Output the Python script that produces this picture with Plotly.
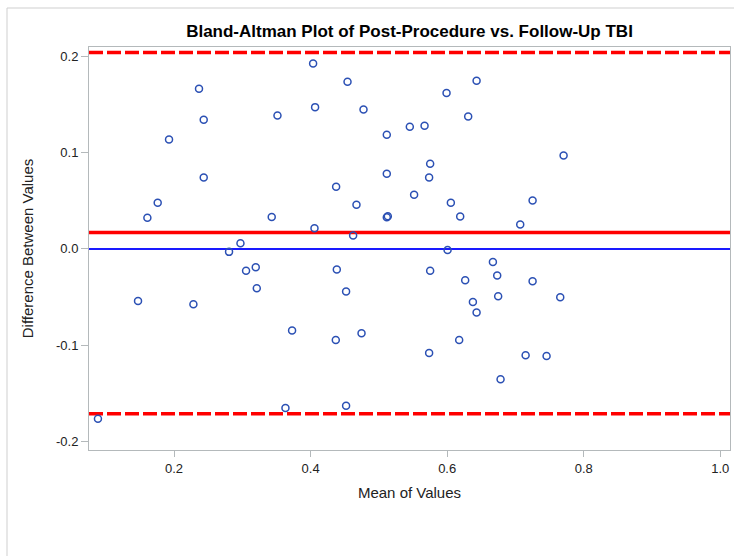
import plotly.graph_objects as go

# ---- data ----
mean_values = [0.0886, 0.1473, 0.1610, 0.1761, 0.1927, 0.2284, 0.2366, 0.2435, 0.2435,
               0.2806, 0.2973, 0.3055, 0.3197, 0.3212, 0.3431, 0.3515, 0.3632, 0.3729,
               0.4037, 0.4066, 0.4057, 0.4374, 0.4384, 0.4369, 0.4541, 0.4520, 0.4520,
               0.4623, 0.4672, 0.4775, 0.4746, 0.5116, 0.5116, 0.5116, 0.5131, 0.5453,
               0.5516, 0.5669, 0.5751, 0.5736, 0.5751, 0.5736, 0.5991, 0.6006, 0.6054,
               0.6191, 0.6176, 0.6264, 0.6308, 0.6431, 0.6377, 0.6431, 0.6670, 0.6733,
               0.6747, 0.6782, 0.7070, 0.7149, 0.7251, 0.7251, 0.7456, 0.7656, 0.7705]
diff_values = [-0.1762, -0.0540, 0.0322, 0.0478, 0.1135, -0.0574, 0.1661, 0.1340, 0.0740,
               -0.0031, 0.0059, -0.0228, -0.0190, -0.0408, 0.0332, 0.1384, -0.1651, -0.0848,
               0.1924, 0.1471, 0.0215, 0.0644, -0.0215, -0.0945, 0.1734, -0.0443, -0.1627,
               0.0140, 0.0457, 0.1447, -0.0875, 0.1184, 0.0779, 0.0329, 0.0339, 0.1267,
               0.0561, 0.1277, 0.0883, 0.0740, -0.0228, -0.1080, 0.1617, -0.0012, 0.0478,
               0.0335, -0.0945, -0.0325, 0.1374, 0.1745, -0.0550, -0.0661, -0.0135, -0.0277,
               -0.0491, -0.1353, 0.0252, -0.1104, 0.0502, -0.0335, -0.1111, -0.0502, 0.0969]

bias = 0.0169
upper_loa = 0.2038
lower_loa = -0.1710
zero_line = 0.0

x_tickvals = [0.2, 0.4, 0.6, 0.8, 1.0]
x_ticktext = ["0.2", "0.4", "0.6", "0.8", "1.0"]
y_tickvals = [-0.2, -0.1, 0.0, 0.1, 0.2]
y_ticktext = ["-0.2", "-0.1", "0.0", "0.1", "0.2"]

title_text = "Bland-Altman Plot of Post-Procedure vs. Follow-Up TBI"
x_title = "Mean of Values"
y_title = "Difference Between Values"

# ---- figure ----
W, H = 734, 556
L, R, T, B = 89, 4, 47, 106
FONT = "Liberation Sans, Arial, sans-serif"
AXIS_GRAY = "#B4B9BB"

fig = go.Figure()

fig.add_trace(go.Scatter(
    x=mean_values, y=diff_values, mode="markers",
    marker=dict(symbol="circle-open", size=7, color="#2B50B4",
                line=dict(width=1.5, color="#2B50B4")),
    showlegend=False, hoverinfo="x+y",
))

# reference lines
fig.add_hline(y=zero_line, line=dict(color="#1A1AFF", width=2), layer="below")
fig.add_hline(y=bias, line=dict(color="#FF0000", width=3.5), layer="below")
fig.add_hline(y=upper_loa, line=dict(color="#FF0000", width=3.5, dash="14px,4px"), layer="below")
fig.add_hline(y=lower_loa, line=dict(color="#FF0000", width=3.5, dash="14px,4px"), layer="below")

# outer light frame (top and left edges visible in the reference)
pw = W - L - R
ph = H - T - B
def px_to_paper_x(p):
    return (p - L) / pw
def px_to_paper_y(p):
    return (H - B - p) / ph

fig.add_shape(type="line", xref="paper", yref="paper",
              x0=px_to_paper_x(7), x1=px_to_paper_x(740),
              y0=px_to_paper_y(8), y1=px_to_paper_y(8),
              line=dict(color="#CFCFCF", width=1))
fig.add_shape(type="line", xref="paper", yref="paper",
              x0=px_to_paper_x(7), x1=px_to_paper_x(7),
              y0=px_to_paper_y(8), y1=px_to_paper_y(560),
              line=dict(color="#CFCFCF", width=1))

fig.update_layout(
    width=W, height=H, autosize=False,
    margin=dict(l=L, r=R, t=T, b=B),
    paper_bgcolor="white", plot_bgcolor="white",
    font=dict(family=FONT, color="#222222"),
    title=dict(text=title_text, x=0.5, xref="paper", xanchor="center",
               y=1 - 31 / H, yref="container", yanchor="middle",
               font=dict(family=FONT, size=17, color="#000000", weight="bold")),
    showlegend=False,
)

fig.update_xaxes(
    range=[0.0755, 1.0142], tickvals=x_tickvals, ticktext=x_ticktext,
    showgrid=False, zeroline=False,
    showline=True, linecolor=AXIS_GRAY, linewidth=1, mirror=True,
    ticks="outside", ticklen=6, tickcolor=AXIS_GRAY, tickwidth=1,
    tickfont=dict(family=FONT, size=13, color="#222222"),
    title=dict(text=x_title, font=dict(family=FONT, size=15, color="#222222"), standoff=12),
)
fig.update_yaxes(
    range=[-0.2087, 0.2095], tickvals=y_tickvals, ticktext=y_ticktext,
    showgrid=False, zeroline=False,
    showline=True, linecolor=AXIS_GRAY, linewidth=1, mirror=True,
    ticks="outside", ticklen=7, tickcolor=AXIS_GRAY, tickwidth=1,
    tickfont=dict(family=FONT, size=13, color="#222222"),
    title=dict(text=y_title, font=dict(family=FONT, size=15, color="#222222"), standoff=18),
)

fig.write_html("out.html")
